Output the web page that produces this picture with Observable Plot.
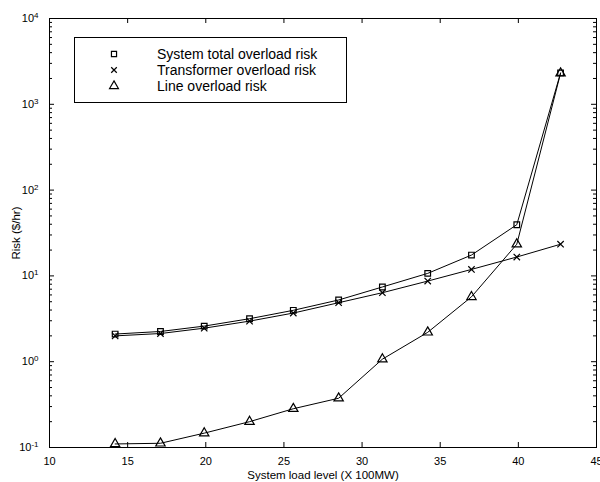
<!DOCTYPE html>
<html><head><meta charset="utf-8">
<script src="https://cdn.jsdelivr.net/npm/d3@7"></script>
<script src="https://cdn.jsdelivr.net/npm/@observablehq/plot@0.6"></script>
<style>
body{margin:0;background:#fff;font-family:"Liberation Sans",Arial,sans-serif;}
#wrap{position:relative;width:600px;height:482px;}
#legend{position:absolute;left:74px;top:37px;width:273px;height:66px;border:1px solid #000;border-right-width:1.5px;border-bottom-width:1.5px;background:#fff;box-sizing:border-box;font-size:14px;color:#000;padding-top:8px;}
#legend .row{display:flex;align-items:center;height:16px;line-height:16px;}
#legend svg{margin-left:34px;width:10px;height:10px;overflow:visible;}
#legend span{margin-left:38px;}
</style>
</head><body>
<div id="wrap"><div id="chart"></div><div id="legend"></div></div>
<script>
// ---- data ----
const loadLevel = [14.2, 17.1, 19.9, 22.8, 25.6, 28.5, 31.3, 34.2, 37.0, 39.9, 42.7];
const systemTotalRisk = [2.1, 2.25, 2.6, 3.17, 3.97, 5.24, 7.43, 10.7, 17.5, 39.5, 2320];
const transformerRisk = [2.0, 2.13, 2.46, 2.97, 3.69, 4.87, 6.37, 8.7, 11.9, 16.6, 23.4];
const lineRisk = [0.11, 0.112, 0.147, 0.20, 0.283, 0.375, 1.07, 2.2, 5.7, 23.4, 2300];
const seriesNames = ["System total overload risk", "Transformer overload risk", "Line overload risk"];
const seriesSymbols = ["square", "times", "triangle"];
const xTicks = [10, 15, 20, 25, 30, 35, 40, 45];
const yMajor = [0.1, 1, 10, 100, 1000, 10000];
const yMinor = [0.1, 1, 10, 100, 1000].flatMap(d => [2,3,4,5,6,7,8,9].map(k => k * d));
const xLabel = "System load level (X 100MW)";
const yLabel = "Risk ($/hr)";

const seriesValues = [systemTotalRisk, transformerRisk, lineRisk];
const rows = seriesValues.flatMap((vals, s) => vals.map((v, i) => ({series: seriesNames[s], x: loadLevel[i], y: v})));

const W = 600, H = 482, mL = 49, mR = 4, mT = 18, mB = 35;
const innerW = W - mL - mR, innerH = H - mT - mB;
const majorLen = 5, minorLen = 3;

const chart = Plot.plot({
  width: W, height: H,
  marginLeft: mL, marginRight: mR, marginTop: mT, marginBottom: mB,
  style: {fontFamily: '"Liberation Sans", Arial, sans-serif', color: "#000", background: "#fff"},
  x: {domain: [10, 45]},
  y: {type: "log", domain: [0.1, 10000]},
  marks: [
    // inward ticks
    Plot.ruleX(xTicks, {x: d => d, insetTop: innerH - majorLen, stroke: "#000", strokeWidth: 1}),
    Plot.ruleX(xTicks, {x: d => d, insetBottom: innerH - majorLen, stroke: "#000", strokeWidth: 1}),
    Plot.ruleY(yMajor, {y: d => d, insetRight: innerW - majorLen, stroke: "#000", strokeWidth: 1}),
    Plot.ruleY(yMajor, {y: d => d, insetLeft: innerW - majorLen, stroke: "#000", strokeWidth: 1}),
    Plot.ruleY(yMinor, {y: d => d, insetRight: innerW - minorLen, stroke: "#000", strokeWidth: 1}),
    Plot.ruleY(yMinor, {y: d => d, insetLeft: innerW - minorLen, stroke: "#000", strokeWidth: 1}),
    Plot.axisX(xTicks, {tickSize: 0, tickPadding: 10, fontSize: 11, label: null, tickFormat: d => String(d)}),
    Plot.axisY(yMajor, {tickSize: 0, tickPadding: 11, fontSize: 11, label: null,
      tickFormat: d => "10|" + Math.round(Math.log10(d))}),
    Plot.line(rows, {x: "x", y: "y", z: "series", stroke: "#000", strokeWidth: 1}),
    Plot.dot(rows, {x: "x", y: "y", symbol: d => seriesSymbols[seriesNames.indexOf(d.series)],
      r: d => d.series === seriesNames[2] ? 4.3 : d.series === seriesNames[0] ? 3.6 : 3.2,
      stroke: "#000", strokeWidth: 1.2, fill: "none"}),
    Plot.frame({stroke: "#000", strokeWidth: 1}),
    Plot.text([xLabel], {text: d => d, frameAnchor: "bottom", lineAnchor: "middle", dy: 28, fontSize: 11.5, fill: "#000"}),
    Plot.text([yLabel], {text: d => d, frameAnchor: "left", textAnchor: "middle", lineAnchor: "middle", dx: -33, rotate: -90, fontSize: 11.5, fill: "#000"})
  ]
});
document.getElementById("chart").appendChild(chart);

// superscript exponents on y tick labels
d3.select(chart).selectAll("text").each(function() {
  const t = d3.select(this);
  const s = t.text();
  if (!/^10\|/.test(s)) return;
  const [base, exp] = s.split("|");
  t.text(base);
  t.append("tspan").attr("dy", "-0.5em").attr("font-size", "8px").text(exp);
});

// legend
const legend = d3.select("#legend");
seriesNames.forEach((name, i) => {
  const row = legend.append("div").attr("class", "row");
  const svg = row.append("svg").attr("viewBox", "-5 -5 10 10");
  const sym = {square: d3.symbolSquare, times: d3.symbolTimes, triangle: d3.symbolTriangle}[seriesSymbols[i]];
  const size = seriesSymbols[i] === "square" ? 26 : seriesSymbols[i] === "triangle" ? 34 : 22;
  svg.append("path").attr("d", d3.symbol(sym, size)()).attr("fill", "none").attr("stroke", "#000").attr("stroke-width", 1.2);
  row.append("span").text(name);
});
</script>
</body></html>
